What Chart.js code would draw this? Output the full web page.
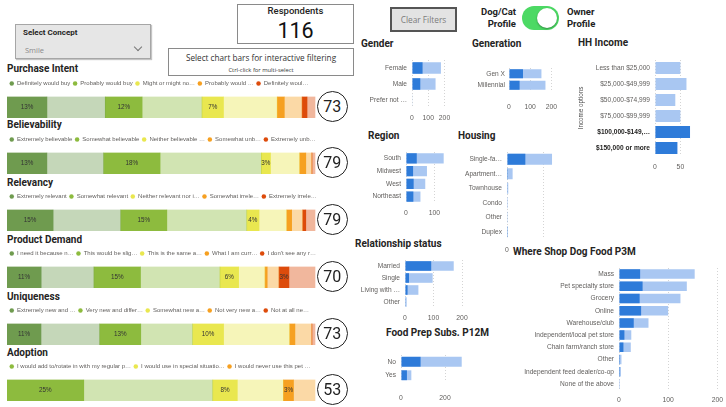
<!DOCTYPE html>
<html>
<head>
<meta charset="utf-8">
<script src="https://cdn.jsdelivr.net/npm/chart.js@4"></script>
<style>
  body { margin: 0; width: 726px; height: 407px; overflow: hidden; background: #fff; position: relative; font-family: "Open Sans", sans-serif; }
  .abs { position: absolute; white-space: nowrap; }
  .ttl { position: absolute; white-space: nowrap; font-family: Roboto, sans-serif; font-weight: bold; font-size: 10px; line-height: 12px; color: #252423; }
  canvas { position: absolute; }
  .score { position: absolute; width: 29px; height: 29px; border: 1.3px solid #222; border-radius: 50%; text-align: center; line-height: 29px; font-family: Roboto, sans-serif; font-size: 16px; color: #222; background: #fff; z-index: 2; }
</style>
</head>
<body>

<!-- header widgets -->
<div class="abs" style="left:15px;top:24px;width:134px;height:33px;background:#e6e6e6;border:1px solid #a6a6a6;box-shadow:1px 1px 1px #c4c4c4"></div>
<div class="abs" style="left:23px;top:27px;font:bold 8px Roboto;color:#252423;line-height:12px">Select Concept</div>
<div class="abs" style="left:25px;top:44px;font:7.5px 'Open Sans';color:#8a8a8a;line-height:12px">Smile</div>
<div class="abs" style="left:135px;top:44px;width:5px;height:5px;border-right:1px solid #777;border-bottom:1px solid #777;transform:rotate(45deg)"></div>

<div class="abs" style="left:237px;top:4px;width:115px;height:38px;border:1px solid #8a8a8a"></div>
<div class="abs" style="left:237px;top:5px;width:117px;text-align:center;font:500 9.5px Roboto;color:#252423;line-height:12px">Respondents</div>
<div class="abs" style="left:237px;top:18px;width:117px;text-align:center;font:21.5px Roboto;color:#111;line-height:26px">116</div>

<div class="abs" style="left:168px;top:48px;width:184px;height:26px;border:1px solid #8a8a8a"></div>
<div class="abs" style="left:168px;top:52px;width:186px;text-align:center;font:8.2px 'Open Sans';color:#333;line-height:12px">Select chart bars for interactive filtering</div>
<div class="abs" style="left:168px;top:66px;width:186px;text-align:center;font:5.8px 'Open Sans';color:#333;line-height:8px">Ctrl-click for multi-select</div>

<div class="abs" style="left:390px;top:7px;width:63px;height:21px;background:#e3e3e3;border:2px solid #555;text-align:center;font:8.3px 'Open Sans';color:#7b7b7b;line-height:21px">Clear Filters</div>

<div class="abs" style="left:470px;top:6px;width:46px;text-align:right;font:bold 9.5px Roboto;color:#222;line-height:12px">Dog/Cat<br>Profile</div>
<div class="abs" style="left:522px;top:6px;width:37px;height:24px;border-radius:12px;background:#4cd964"></div>
<div class="abs" style="left:537px;top:8px;width:20px;height:20px;border-radius:50%;background:#fff;box-shadow:0 1px 2px rgba(0,0,0,0.35)"></div>
<div class="abs" style="left:567px;top:6px;font:bold 9.5px Roboto;color:#222;line-height:12px">Owner<br>Profile</div>

<!-- left titles -->
<div class="ttl" style="left:7px;top:63px">Purchase Intent</div>
<div class="ttl" style="left:7px;top:119px">Believability</div>
<div class="ttl" style="left:7px;top:177px">Relevancy</div>
<div class="ttl" style="left:7px;top:234px">Product Demand</div>
<div class="ttl" style="left:7px;top:291px">Uniqueness</div>
<div class="ttl" style="left:7px;top:347px">Adoption</div>

<!-- right titles -->
<div class="ttl" style="left:361px;top:38px">Gender</div>
<div class="ttl" style="left:472px;top:38px">Generation</div>
<div class="ttl" style="left:578px;top:37px">HH Income</div>
<div class="ttl" style="left:368px;top:130px">Region</div>
<div class="ttl" style="left:458px;top:130px">Housing</div>
<div class="ttl" style="left:355px;top:238px">Relationship status</div>
<div class="ttl" style="left:386px;top:327px">Food Prep Subs. P12M</div>
<div class="abs" style="left:511px;top:244px;width:215px;height:163px;background:#fff;z-index:1"></div>
<div class="ttl" style="left:513px;top:246px;z-index:2">Where Shop Dog Food P3M</div>

<script>
// ---- concept metric rows (percent of respondents, selected concept vs rest) ----
const rowNames = ["Purchase Intent", "Believability", "Relevancy", "Product Demand", "Uniqueness", "Adoption"];
const scores = [73, 79, 79, 70, 73, 53];

const intentLegend = ["Definitely would buy", "Probably would buy", "Might or might no…", "Probably would …", "Definitely woul…"];
const intentSel = [13, 12, 7, 2.3, 1.6];
const intentRest = [19, 19.5, 17.5, 5.8, 2.6];

const believeLegend = ["Extremely believable", "Somewhat believable", "Neither believable …", "Somewhat unb…", "Extremely unb…"];
const believeSel = [13, 18.4, 3, 2, 0];
const believeRest = [18.5, 33, 9.5, 2, 1];

const relevLegend = ["Extremely relevant", "Somewhat relevant", "Neither relevant nor i…", "Somewhat irrele…", "Extremely irrele…"];
const relevSel = [15, 15, 4, 1.6, 1];
const relevRest = [22, 26, 9, 3.6, 3];

const demandLegend = ["I need it because n…", "This would be slig…", "This is the same a…", "What I am curr…", "I don't see any r…"];
const demandSel = [11, 15, 6, 0.7, 3.2];
const demandRest = [17, 25.6, 8.5, 3.8, 8.4];

const uniqLegend = ["Extremely new and …", "Very new and differ…", "Somewhat new a…", "Not very new a…", "Not at all ne…"];
const uniqSel = [11, 13.3, 10, 1.7, 0];
const uniqRest = [19, 16.8, 21.4, 5.5, 1];

const adoptLegend = ["I would add to/rotate in with my regular p…", "I would use in special situatio…", "I would never use this pet …"];
const adoptSel = [25, 8, 3.3];
const adoptRest = [42, 15, 7];

const scaleColors = ["#6f9b4f", "#8dbb3e", "#e9e74f", "#f6a021", "#dd4b0b"];
const adoptColors = ["#8dbb3e", "#e9e74f", "#f6a021"];

// ---- owner profile bars (selected = dark, all = light) ----
const genderLabels = ["Female", "Male", "Prefer not …"];
const genderSel = [65, 51, 0];
const genderAll = [178, 145, 4];

const generationLabels = ["Gen X", "Millennial"];
const generationSel = [66, 50];
const generationAll = [153, 172];

const incomeLabels = ["Less than $25,000", "$25,000-$49,999", "$50,000-$74,999", "$75,000-$99,999", "$100,000-$149,…", "$150,000 or more"];
const incomeSel = [0, 0, 0, 0, 69, 44];
const incomeAll = [50, 62, 40, 50, 69, 44];

const regionLabels = ["South", "Midwest", "West", "Northeast"];
const regionSel = [38, 25, 27, 26];
const regionAll = [133, 74, 68, 51];

const housingLabels = ["Single-fa…", "Apartment…", "Townhouse", "Condo", "Other", "Duplex"];
const housingSel = [101, 5, 4, 3, 2, 1];
const housingAll = [248, 31, 7, 5, 3, 2];

const relLabels = ["Married", "Single", "Living with …", "Other"];
const relSel = [92, 14, 9, 1];
const relAll = [171, 97, 47, 6];

const foodLabels = ["No", "Yes"];
const foodSel = [89, 27];
const foodAll = [276, 47];

const shopLabels = ["Mass", "Pet specialty store", "Grocery", "Online", "Warehouse/club", "Independent/local pet store", "Chain farm/ranch store", "Other", "Independent feed dealer/co-op", "None of the above"];
const shopSel = [43, 48, 42, 45, 30, 11, 9, 2, 2, 1];
const shopAll = [154, 138, 125, 100, 60, 25, 24, 5, 4, 2];

const DARK = "#2e7bd9", LIGHT = "#a9c7f2", GREY = "#605e5c";
const SMALL = "Liberation Sans";

function place(left, top, w, h, z) {
  const c = document.createElement("canvas");
  c.width = w; c.height = h;
  c.style.left = left + "px"; c.style.top = top + "px";
  if (z) c.style.zIndex = z;
  document.body.appendChild(c);
  return c;
}

function fade(hex) {
  const n = parseInt(hex.slice(1), 16);
  return "rgba(" + (n >> 16) + "," + ((n >> 8) & 255) + "," + (n & 255) + ",0.4)";
}

// percent labels inside the dark segments, only where they fit
const pctLabels = {
  id: "pctLabels",
  afterDatasetsDraw(chart) {
    const ctx = chart.ctx;
    ctx.save();
    ctx.font = "6.3px '" + SMALL + "'";
    ctx.fillStyle = "#333";
    ctx.textAlign = "center";
    ctx.textBaseline = "middle";
    chart.data.datasets.forEach((ds, i) => {
      if (i % 2) return;
      const bar = chart.getDatasetMeta(i).data[0];
      if (bar.x - bar.base < 9) return;
      ctx.fillText(Math.round(ds.data[0]) + "%", (bar.x + bar.base) / 2, bar.y);
    });
    ctx.restore();
  }
};

// bar spans 308px; the canvas is wider so the legend gets room on one line
const BAR_W = 308, ROW_W = 336;
function stackRow(top, legend, sel, rest, colors) {
  const c = place(5, top, ROW_W + 4, 40);
  const datasets = [];
  sel.forEach((v, i) => {
    datasets.push({ label: legend[i], data: [v], backgroundColor: colors[i] });
    datasets.push({ label: legend[i] + " (rest)", data: [rest[i]], backgroundColor: fade(colors[i]) });
  });
  const total = sel.concat(rest).reduce((a, b) => a + b, 0);
  new Chart(c, {
    type: "bar",
    data: { labels: [""], datasets },
    options: {
      indexAxis: "y", responsive: false, animation: false,
      layout: { padding: { left: 2, right: 2 } },
      datasets: { bar: { barPercentage: 1, categoryPercentage: 1, borderWidth: 0 } },
      scales: {
        x: { stacked: true, display: false, min: 0, max: total * ROW_W / BAR_W },
        y: { stacked: true, display: false }
      },
      plugins: {
        tooltip: { enabled: false },
        legend: {
          align: "start",
          labels: {
            usePointStyle: true, pointStyle: "circle", pointStyleWidth: 4.5, boxHeight: 3.2,
            padding: 2.5, color: GREY, font: { family: SMALL, size: 6 },
            filter: (it) => it.datasetIndex % 2 === 0
          }
        }
      }
    },
    plugins: [pctLabels]
  });
}

const rowTops = [78, 134, 191, 248, 305, 361];
const rowData = [
  [intentLegend, intentSel, intentRest, scaleColors],
  [believeLegend, believeSel, believeRest, scaleColors],
  [relevLegend, relevSel, relevRest, scaleColors],
  [demandLegend, demandSel, demandRest, scaleColors],
  [uniqLegend, uniqSel, uniqRest, scaleColors],
  [adoptLegend, adoptSel, adoptRest, adoptColors]
];
rowData.forEach((r, i) => {
  stackRow(rowTops[i], r[0], r[1], r[2], r[3]);
  const s = document.createElement("div");
  s.className = "score";
  s.textContent = scores[i];
  s.style.left = (332.5 - 15.8) + "px";
  s.style.top = (rowTops[i] + 28.5 - 15.8) + "px";
  document.body.appendChild(s);
});

// horizontal overlay bars: p = plot box, axisW/axisH = fixed axis sizes
function hbar(p, labels, sel, all, o) {
  const padTop = 14;
  const cw = Math.ceil(p.axisW + p.w + 22);
  const padRight = cw - p.axisW - p.w;
  const c = place(p.left - p.axisW, p.top - padTop, cw, Math.ceil(padTop + p.h + p.axisH), o.z);
  const bold = o.bold || [];
  new Chart(c, {
    type: "bar",
    data: {
      labels,
      datasets: [
        { data: sel, backgroundColor: DARK },
        { data: all, backgroundColor: LIGHT }
      ]
    },
    options: {
      indexAxis: "y", responsive: false, animation: false,
      layout: { padding: { top: padTop, right: padRight, left: 0, bottom: 0 } },
      datasets: { bar: { grouped: false, barPercentage: o.bp || 0.77, categoryPercentage: 1, borderWidth: 0 } },
      scales: {
        x: {
          min: 0, max: o.max,
          afterFit: (s) => { s.height = p.axisH; },
          ticks: { stepSize: o.step, includeBounds: false, color: GREY, font: { family: SMALL, size: 6.8 }, padding: o.tickPad, maxRotation: 0 },
          grid: { color: "#d4d4d4", drawTicks: false },
          border: { display: false, dash: [1, 2] }
        },
        y: {
          afterFit: (s) => { s.width = p.axisW; },
          grid: { display: false, drawTicks: false },
          border: { display: false },
          title: o.yTitle ? { display: true, text: o.yTitle, color: "#444", font: { family: SMALL, size: 6.3 }, padding: 0 } : { display: false },
          ticks: {
            padding: o.labelPad, autoSkip: false,
            color: (ctx) => bold.includes(ctx.index) ? "#252423" : GREY,
            font: (ctx) => ({ family: SMALL, size: 6.6, weight: bold.includes(ctx.index) ? "bold" : "normal" })
          }
        }
      },
      plugins: { legend: { display: false }, tooltip: { enabled: false } }
    }
  });
}

hbar({ left: 412, top: 60, w: 32.5, h: 48, axisW: 57, axisH: 20 }, genderLabels, genderSel, genderAll,
  { max: 200, step: 100, tickPad: 6, labelPad: 5, bp: 0.72 });
hbar({ left: 509.3, top: 67.8, w: 42.4, h: 23, axisW: 49, axisH: 25 }, generationLabels, generationSel, generationAll,
  { max: 200, step: 100, tickPad: 11.8, labelPad: 4, bp: 0.8 });
hbar({ left: 655, top: 60.3, w: 40.6, h: 96, axisW: 78, axisH: 20 }, incomeLabels, incomeSel, incomeAll,
  { max: 80, step: 50, tickPad: 7.5, labelPad: 5, bp: 0.75, yTitle: "Income options", bold: [4, 5] });
hbar({ left: 406, top: 152, w: 42.5, h: 50.4, axisW: 48, axisH: 18 }, regionLabels, regionSel, regionAll,
  { max: 150, step: 100, tickPad: 5.7, labelPad: 5, bp: 0.8 });
hbar({ left: 507, top: 152, w: 47.2, h: 86.4, axisW: 47, axisH: 18 }, housingLabels, housingSel, housingAll,
  { max: 260, step: 200, tickPad: 7.4, labelPad: 5, bp: 0.76 });
hbar({ left: 405, top: 259.8, w: 57, h: 47.2, axisW: 50, axisH: 18 }, relLabels, relSel, relAll,
  { max: 200, step: 100, tickPad: 6.1, labelPad: 5, bp: 0.8 });
hbar({ left: 401.3, top: 355.3, w: 66, h: 26.6, axisW: 31, axisH: 25 }, foodLabels, foodSel, foodAll,
  { max: 300, step: 200, tickPad: 12.5, labelPad: 5, bp: 0.73 });
hbar({ left: 619, top: 267.6, w: 98.3, h: 121.8, axisW: 104, axisH: 17 }, shopLabels, shopSel, shopAll,
  { max: 200, step: 100, tickPad: 5.7, labelPad: 5, bp: 0.78, z: 3 });
</script>
</body>
</html>
